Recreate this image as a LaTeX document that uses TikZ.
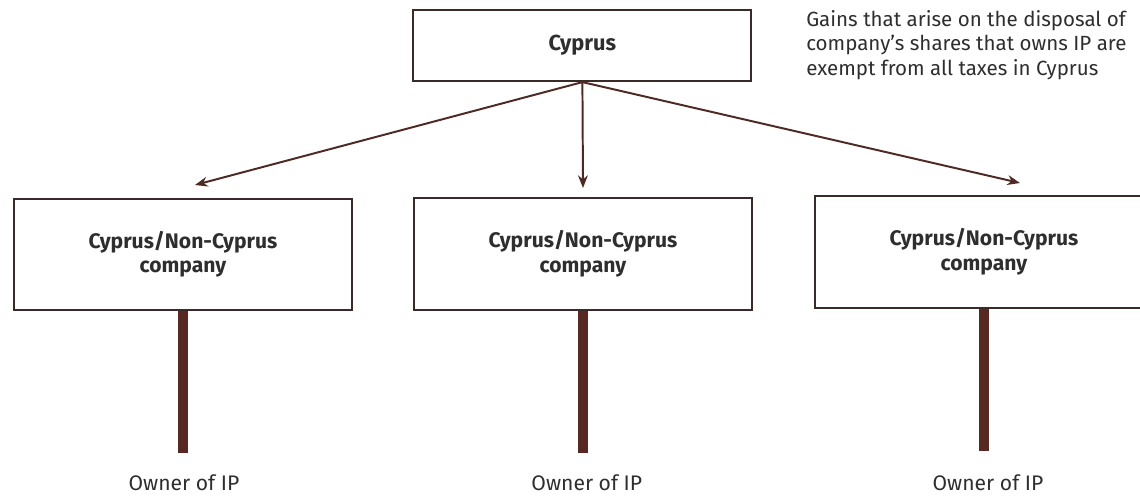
\documentclass[tikz,border=0pt]{standalone}
\usepackage{fontspec}
\setmainfont{Fira Sans}
\usetikzlibrary{arrows.meta}
\definecolor{boxline}{HTML}{3A2A28}
\definecolor{linkbrown}{HTML}{4E2A24}
\definecolor{stembrown}{HTML}{562A22}
\definecolor{textgrey}{HTML}{2E2E2E}

\begin{document}
\begin{tikzpicture}[auto,
    entity/.style ={rectangle, draw=boxline, line width=1.3pt, fill=white,
                    text=textgrey, font=\fontsize{15}{17.5}\selectfont\bfseries,
                    align=center, minimum width=8.45cm},
    holding/.style ={entity, minimum height=1.78cm, font=\fontsize{15.5}{18}\selectfont\bfseries},
    subsidiary/.style ={entity, minimum height=2.78cm},
    link/.style ={draw=linkbrown, line width=1.4pt, -{Stealth[length=9pt,width=7pt]}},
    stem/.style ={draw=stembrown, line width=7pt},
    owner/.style ={text=textgrey, font=\fontsize{15}{18}\selectfont}]
   \useasboundingbox (0,0) rectangle (28.5,-12.45);

   \node[holding] (cy) at (14.56,-1.14) {Cyprus};
   \node[subsidiary] (subA) at (4.575,-6.36) {Cyprus/Non-Cyprus\\company};
   \node[subsidiary] (subB) at (14.575,-6.35) {Cyprus/Non-Cyprus\\company};
   \node[subsidiary] (subC) at (24.6,-6.3) {Cyprus/Non-Cyprus\\company};

   \node[owner, inner sep=1pt] (ipA) at (4.6,-12.08) {Owner of IP};
   \node[owner, inner sep=1pt] (ipB) at (14.67,-12.08) {Owner of IP};
   \node[owner, inner sep=1pt] (ipC) at (24.7,-12.08) {Owner of IP};

   \node[owner, anchor=north west, align=left, inner sep=0pt,
         font=\fontsize{14.6}{17.5}\selectfont] (note) at (20.15,-0.25)
        {Gains that arise on the disposal of\\
         company's shares that owns IP are\\
         exempt from all taxes in Cyprus};

   \coordinate (endA) at (4.875,-4.625);
   \coordinate (endB) at (14.575,-4.7);
   \coordinate (endC) at (25.5,-4.575);

   \draw[link] (cy.south) to (endA);
   \draw[link] (cy.south) to (endB);
   \draw[link] (cy.south) to (endC);

   \draw[stem] (subA.south) to ++(0,-3.55);
   \draw[stem] (subB.south) to ++(0,-3.55);
   \draw[stem] (subC.south) to ++(0,-3.55);
 \end{tikzpicture}
\end{document}
